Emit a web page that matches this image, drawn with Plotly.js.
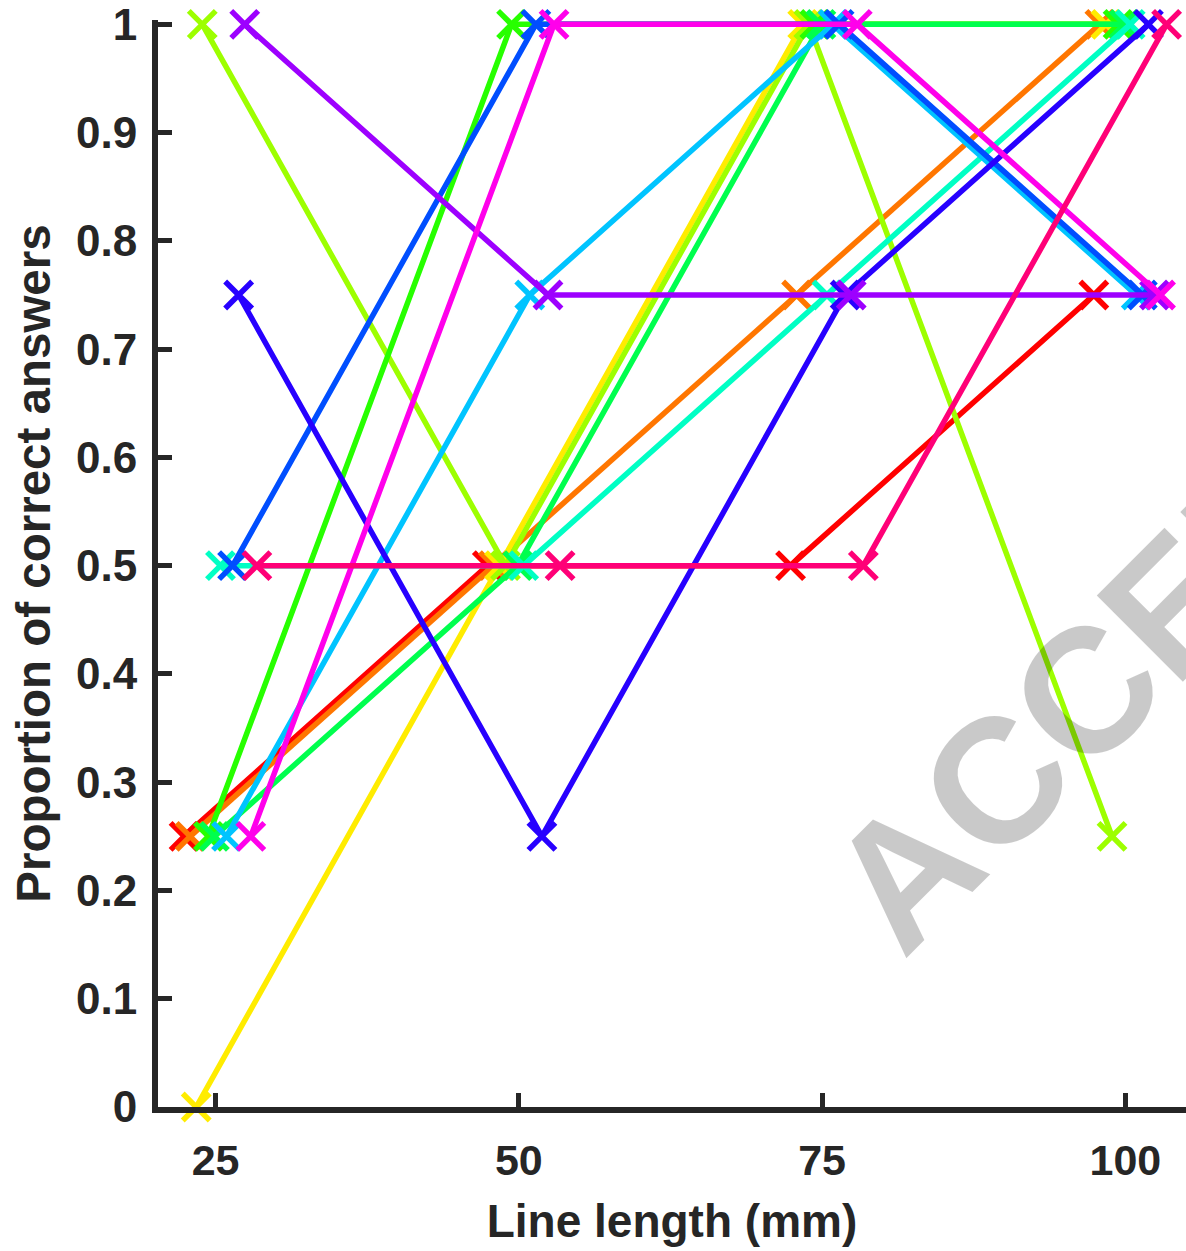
<!DOCTYPE html>
<html>
<head>
<meta charset="utf-8">
<script src="https://cdn.plot.ly/plotly-3.0.1.min.js"></script>
<style>
  html, body { margin: 0; padding: 0; background: #ffffff; }
  #chart { width: 1186px; height: 1251px; }
</style>
</head>
<body>
<div id="chart"></div>
<script>
// Line lengths tested (mm)
const lengths = [25, 50, 75, 100];

// Horizontal jitter of each participant's markers (mm)
const jitter = [-2.6, -2.1, -1.6, -1.1, -0.6, -0.1, 0.4, 0.9, 1.4, 1.9, 2.4, 2.9, 3.4];

// Participant colours (hsv colormap, 13 entries)
const colors = ['#FF0000', '#FF7600', '#FFEC00', '#9DFF00', '#27FF00', '#00FF4E', '#00FFC4',
                '#00C4FF', '#004EFF', '#2700FF', '#9D00FF', '#FF00EB', '#FF0077'];

// Proportion of correct answers per participant at 25, 50, 75, 100 mm
const p01 = [0.25, 0.5, 0.5, 0.75];
const p02 = [0.25, 0.5, 0.75, 1];
const p03 = [0, 0.5, 1, 1];
const p04 = [1, 0.5, 1, 0.25];
const p05 = [0.25, 1, 1, 1];
const p06 = [0.25, 0.5, 1, 1];
const p07 = [0.5, 0.5, 0.75, 1];
const p08 = [0.25, 0.75, 1, 0.75];
const p09 = [0.5, 1, 1, 0.75];
const p10 = [0.75, 0.25, 0.75, 1];
const p11 = [1, 0.75, 0.75, 0.75];
const p12 = [0.25, 1, 1, 0.75];
const p13 = [0.5, 0.5, 0.5, 1];
const participants = [p01, p02, p03, p04, p05, p06, p07, p08, p09, p10, p11, p12, p13];

// Tick labels
const yTicks = [0, 0.1, 0.2, 0.3, 0.4, 0.5, 0.6, 0.7, 0.8, 0.9, 1];
const yTickText = ['0', '0.1', '0.2', '0.3', '0.4', '0.5', '0.6', '0.7', '0.8', '0.9', '1'];
const xTickText = ['25', '50', '75', '100'];

const axisColor = '#262626';
const fontFamily = '"Liberation Sans", Arial, Helvetica, sans-serif';

const traces = participants.map((vals, i) => ({
  type: 'scatter',
  mode: 'lines+markers',
  x: lengths.map(L => L + jitter[i]),
  y: vals,
  cliponaxis: false,
  line: { color: colors[i], width: 5.5 },
  marker: { symbol: 'x-thin', size: 27, color: colors[i], line: { color: colors[i], width: 5.5 } },
  showlegend: false,
  hoverinfo: 'skip'
}));

const layout = {
  width: 1186,
  height: 1251,
  margin: { l: 158, r: 0, t: 20.2, b: 144 },
  paper_bgcolor: '#ffffff',
  plot_bgcolor: '#ffffff',
  font: { family: fontFamily, color: axisColor, size: 43, weight: 'bold' },
  showlegend: false,
  xaxis: {
    range: [20.25, 105],
    tickmode: 'array',
    tickvals: lengths,
    ticktext: xTickText,
    ticks: 'inside',
    ticklen: 14,
    tickwidth: 5,
    tickcolor: axisColor,
    showline: true,
    linewidth: 6,
    linecolor: axisColor,
    showgrid: false,
    zeroline: false,
    ticklabeloverflow: 'allow',
    tickfont: { family: fontFamily, size: 43, color: axisColor, weight: 'bold' },
    ticklabelstandoff: 10,
    title: { text: '<b>Line length (mm)</b>', font: { family: fontFamily, size: 46, color: axisColor }, standoff: 24 }
  },
  yaxis: {
    range: [0, 1.004],
    tickmode: 'array',
    tickvals: yTicks,
    ticktext: yTickText,
    ticks: 'inside',
    ticklen: 14,
    tickwidth: 5,
    tickcolor: axisColor,
    showline: true,
    linewidth: 6,
    linecolor: axisColor,
    showgrid: false,
    zeroline: false,
    ticklabeloverflow: 'allow',
    tickfont: { family: fontFamily, size: 44, color: axisColor, weight: 'bold' },
    ticklabelstandoff: 6,
    title: { text: '<b>Proportion of correct answers</b>', font: { family: fontFamily, size: 47.5, color: axisColor }, standoff: 12 }
  },
  annotations: [{
    text: '<b>ACCEPTED</b>',
    xref: 'paper', yref: 'paper',
    x: 1.018, y: 0.49,
    xanchor: 'center', yanchor: 'middle',
    textangle: -45,
    showarrow: false,
    font: { family: fontFamily, size: 177, color: 'rgba(0,0,0,0.21)' }
  }]
};

Plotly.newPlot('chart', traces, layout, { staticPlot: true, displayModeBar: false });
</script>
</body>
</html>
